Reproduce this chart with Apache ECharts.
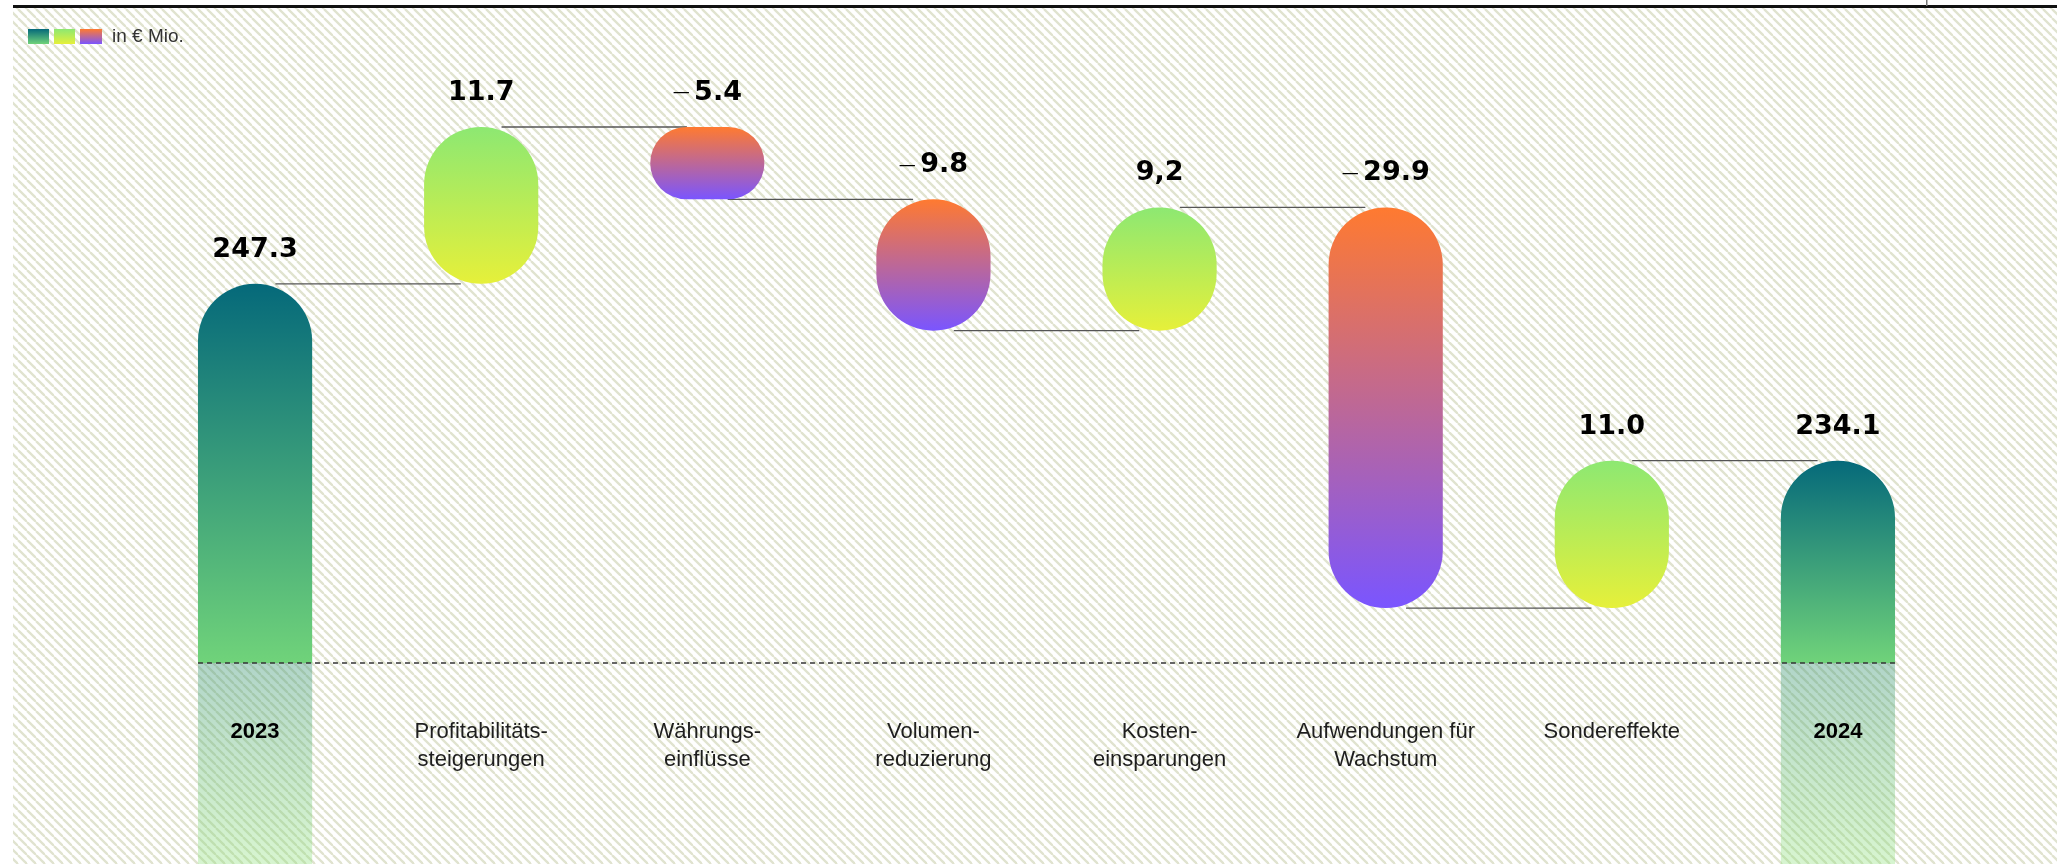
<!DOCTYPE html>
<html><head><meta charset="utf-8">
<script src="https://cdn.jsdelivr.net/npm/echarts@6/dist/echarts.min.js"></script>
<style>html,body{margin:0;padding:0;background:#fff;overflow:hidden}#c{width:2057px;height:864px}</style>
</head><body><div id="c"></div>
<script>
// ---- data ----
const categories = ['2023', 'Profitabilitäts-\nsteigerungen', 'Währungs-\neinflüsse', 'Volumen-\nreduzierung', 'Kosten-\neinsparungen', 'Aufwendungen für\nWachstum', 'Sondereffekte', '2024'];
const values = [247.3, 11.7, -5.4, -9.8, 9.2, -29.9, 11.0, 234.1];
const valueLabels = ['247.3', '11.7', '5.4', '9.8', '9,2', '29.9', '11.0', '234.1'];
const isTotal = [true, false, false, false, false, false, false, true];
const breakValue = 219;   // dashed axis-break line
const yMin = 204, yMax = 264;
const unitText = 'in € Mio.';

// ---- derived ----
const bars = [];
let run = 0;
values.forEach((v, i) => {
  if (isTotal[i]) { bars.push([i, yMin, v, 0]); run = v; }
  else { const a = run, b = run + v; bars.push([i, Math.min(a, b), Math.max(a, b), v > 0 ? 1 : 2]); run = b; }
});
const links = [];
run = 0;
values.forEach((v, i) => {
  run = isTotal[i] ? v : run + v;
  if (i < values.length - 1) links.push([i, Math.round(run * 10) / 10]);
});

const G = (a, b) => new echarts.graphic.LinearGradient(0, 0, 0, 1, [{offset: 0, color: a}, {offset: 1, color: b}]);
const fills = {
  total: ['#05697a', '#70d37a'],
  totalLow: ['rgba(60,150,120,0.40)', 'rgba(140,225,120,0.35)'],
  up: ['#8de872', '#e6f03a'],
  down: ['#ff7a30', '#7a55ff']
};

// hatch pattern
const cv = document.createElement('canvas');
cv.width = 9; cv.height = 9;
const ctx = cv.getContext('2d');
ctx.strokeStyle = '#e0e3cf'; ctx.lineWidth = 2.3;
[-9, 0, 9].forEach(x0 => { ctx.beginPath(); ctx.moveTo(x0, 0); ctx.lineTo(x0 + 9, 9); ctx.stroke(); });

const BW = 0.505;

function renderBar(params, api) {
  const i = api.value(0), lo = api.value(1), hi = api.value(2), kind = api.value(3);
  const band = api.size([1, 0])[0];
  const bw = band * BW;
  const top = api.coord([i, hi]);
  const cx = top[0], x = cx - bw / 2;
  const ch = [];
  if (kind === 0) {
    const base = api.coord([i, breakValue])[1];
    const bottom = api.coord([i, lo])[1];
    ch.push({type: 'rect', shape: {x: x, y: top[1], width: bw, height: base - top[1], r: [bw / 2, bw / 2, 0, 0]}, style: {fill: G(fills.total[0], fills.total[1])}});
    ch.push({type: 'rect', shape: {x: x, y: base, width: bw, height: bottom - base}, style: {fill: G(fills.totalLow[0], fills.totalLow[1])}});
  } else {
    const b = api.coord([i, lo])[1];
    const f = kind === 1 ? fills.up : fills.down;
    ch.push({type: 'rect', shape: {x: x, y: top[1], width: bw, height: b - top[1], r: bw / 2}, style: {fill: G(f[0], f[1])}});
  }
  const idx = params.dataIndex;
  const neg = values[idx] < 0;
  ch.push({
    type: 'text',
    style: {
      text: neg ? '{m|—}{s| }{v|' + valueLabels[idx] + '}' : '{v|' + valueLabels[idx] + '}',
      x: cx, y: top[1] - 34,
      align: 'center', verticalAlign: 'middle',
      textAlign: 'center', textVerticalAlign: 'middle',
      rich: {
        v: {fontFamily: 'DejaVu Sans', fontWeight: 'bold', fontSize: 27, fill: '#000', color: '#000'},
        s: {fontFamily: 'DejaVu Sans', fontSize: 14, fill: '#000', color: '#000'},
        m: {fontFamily: 'DejaVu Sans', fontWeight: 'normal', fontSize: 17, fill: '#000', color: '#000'}
      }
    }
  });
  return {type: 'group', children: ch};
}

function renderLink(params, api) {
  const i = api.value(0), v = api.value(1);
  const a = api.coord([i, v]), b = api.coord([i + 1, v]);
  const off = api.size([1, 0])[0] * 0.09;
  return {type: 'line', shape: {x1: a[0] + off, y1: a[1], x2: b[0] - off, y2: b[1]}, style: {stroke: '#555', lineWidth: 1.3}};
}

function renderBase(params, api) {
  const v = api.value(0);
  const bw = api.size([1, 0])[0] * BW;
  const a = api.coord([0, v]), b = api.coord([categories.length - 1, v]);
  return {type: 'line', shape: {x1: a[0] - bw / 2, y1: a[1], x2: b[0] + bw / 2, y2: b[1]}, style: {stroke: '#333', lineWidth: 1.5, lineDash: [5, 4]}};
}

const chart = echarts.init(document.getElementById('c'), null, {renderer: 'canvas'});
chart.setOption({
  animation: false,
  backgroundColor: '#fff',
  grid: {left: 142, right: 106, top: 60, bottom: 0},
  xAxis: {
    type: 'category', data: categories, offset: -154, z: 20,
    axisLine: {show: false}, axisTick: {show: false}, splitLine: {show: false},
    axisLabel: {
      interval: 0, margin: 8,
      formatter: (v, i) => (isTotal[i] ? '{y|' + v + '}' : '{c|' + v + '}'),
      rich: {
        y: {fontFamily: 'Liberation Sans', fontSize: 22, fontWeight: 'bold', color: '#000', lineHeight: 28},
        c: {fontFamily: 'Liberation Sans', fontSize: 22, color: '#1e1e1e', lineHeight: 28}
      }
    }
  },
  yAxis: {type: 'value', min: yMin, max: yMax, show: false, splitLine: {show: false}},
  graphic: [
    {type: 'rect', z: -100, shape: {x: 13, y: 8, width: 2044, height: 856}, style: {fill: {image: cv, repeat: 'repeat'}}, silent: true},
    {type: 'rect', z: 10, shape: {x: 13, y: 5, width: 2044, height: 3}, style: {fill: '#111'}, silent: true},
    {type: 'rect', z: 10, shape: {x: 1926, y: 0, width: 1.5, height: 6}, style: {fill: '#777'}, silent: true},
    {type: 'rect', z: 10, shape: {x: 28, y: 29, width: 21, height: 15}, style: {fill: G(fills.total[0], fills.total[1])}},
    {type: 'rect', z: 10, shape: {x: 54, y: 29, width: 21, height: 15}, style: {fill: G(fills.up[0], fills.up[1])}},
    {type: 'rect', z: 10, shape: {x: 80, y: 29, width: 22, height: 15}, style: {fill: G(fills.down[0], fills.down[1])}},
    {type: 'text', z: 10, style: {text: unitText, x: 112, y: 37, verticalAlign: 'middle', textVerticalAlign: 'middle', fontFamily: 'Liberation Sans', fontSize: 19, fill: '#333'}}
  ],
  series: [
    {type: 'custom', name: 'links', z: 1, clip: false, silent: true, renderItem: renderLink, data: links},
    {type: 'custom', name: 'bars', z: 2, clip: false, silent: true, renderItem: renderBar, data: bars},
    {type: 'custom', name: 'base', z: 3, clip: false, silent: true, renderItem: renderBase, data: [[breakValue]]}
  ]
});
</script>
</body></html>
